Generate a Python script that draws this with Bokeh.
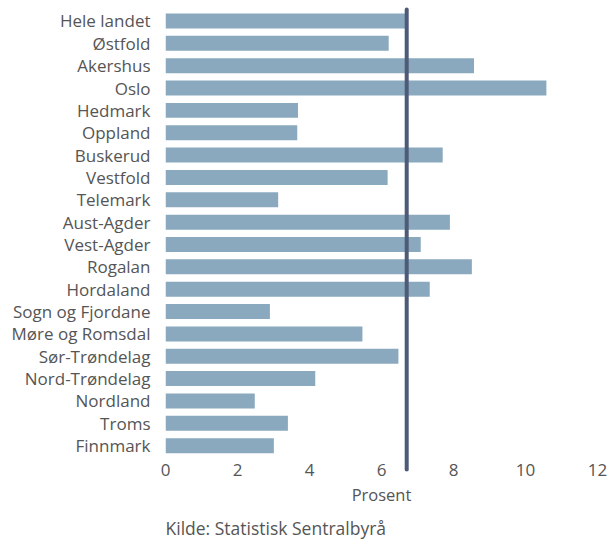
from bokeh.plotting import figure
from bokeh.models import Range1d, FixedTicker, Title
from bokeh.embed import file_html
from bokeh.resources import INLINE

regions = ["Hele landet", "Østfold", "Akershus", "Oslo", "Hedmark", "Oppland",
           "Buskerud", "Vestfold", "Telemark", "Aust-Agder", "Vest-Agder",
           "Rogalan", "Hordaland", "Sogn og Fjordane", "Møre og Romsdal",
           "Sør-Trøndelag", "Nord-Trøndelag", "Nordland", "Troms", "Finnmark"]
values = [6.7, 6.2, 8.57, 10.58, 3.68, 3.66, 7.7, 6.17, 3.13, 7.9, 7.09,
          8.51, 7.34, 2.9, 5.47, 6.47, 4.16, 2.48, 3.4, 3.01]
national = 6.7
x_ticks = [0, 2, 4, 6, 8, 10, 12]

FONT = "Open Sans"
TEXT = "#555555"
BAR = "#8aa9be"
LINE = "#4e5b78"

ypos = list(range(len(regions)))

p = figure(width=608, height=545, output_backend="svg", toolbar_location=None,
           x_range=Range1d(0, 12), y_range=Range1d(20.156, -0.692),
           min_border_left=165, min_border_right=11, min_border_top=5,
           min_border_bottom=73)
p.outline_line_color = None
p.grid.visible = False

p.hbar(y=ypos, left=0, right=values, height=0.67, fill_color=BAR, line_color=None)
p.segment(x0=[national], x1=[national], y0=[-0.513], y1=[20.08],
          line_width=4, line_color=LINE, line_cap="round")

xa = p.xaxis[0]
xa.ticker = FixedTicker(ticks=x_ticks)
xa.axis_line_color = None
xa.major_tick_line_color = None
xa.minor_tick_line_color = None
xa.major_label_standoff = -14
xa.major_label_text_font = FONT
xa.major_label_text_font_size = "17px"
xa.major_label_text_color = TEXT
xa.axis_label = "Prosent"
xa.axis_label_text_font = FONT
xa.axis_label_text_font_size = "16.5px"
xa.axis_label_text_font_style = "normal"
xa.axis_label_text_color = TEXT
xa.axis_label_standoff = 4

ya = p.yaxis[0]
ya.ticker = FixedTicker(ticks=ypos)
ya.major_label_overrides = {i: r for i, r in zip(ypos, regions)}
ya.axis_line_color = None
ya.major_tick_line_color = None
ya.minor_tick_line_color = None
ya.major_label_standoff = 9
ya.major_label_text_font = FONT
ya.major_label_text_font_size = "17px"
ya.major_label_text_color = TEXT

src = Title(text="Kilde: Statistisk Sentralbyrå", align="left",
            text_font=FONT, text_font_size="17.5px", text_font_style="normal",
            text_color=TEXT, standoff=11)
p.add_layout(src, "below")

open("out.html", "w").write(file_html(p, INLINE))
